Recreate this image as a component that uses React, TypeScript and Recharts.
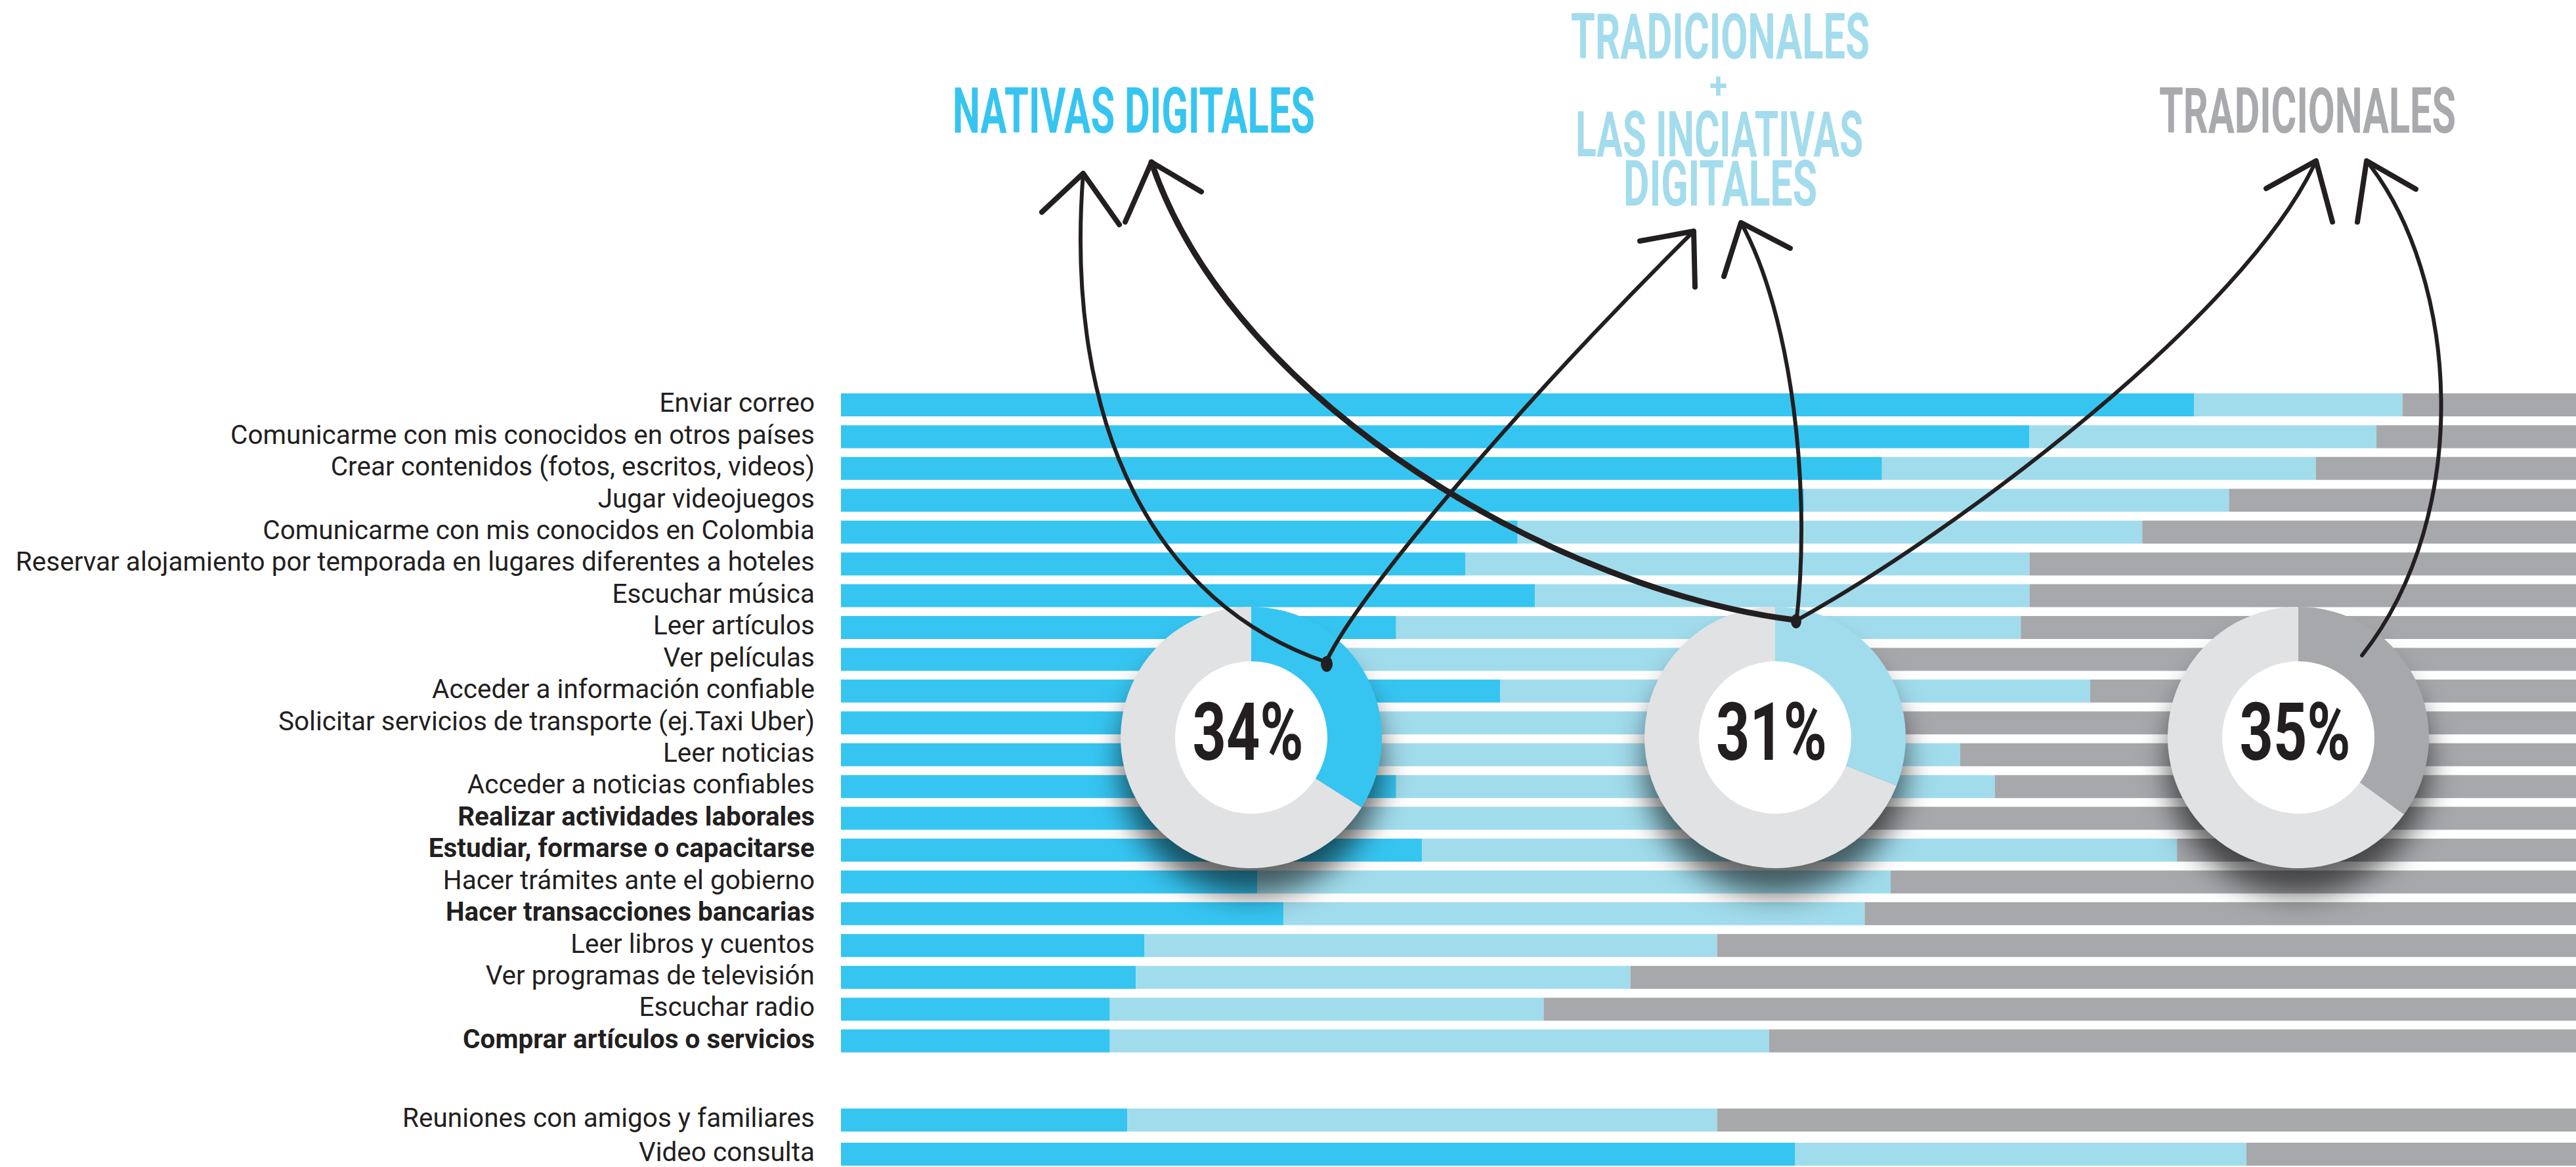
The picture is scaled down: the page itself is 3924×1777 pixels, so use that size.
import React from "react";
import { BarChart, Bar, XAxis, YAxis, PieChart, Pie, Cell } from "recharts";

// Actividades (orden del gráfico, de arriba hacia abajo)
const actividades = [
  "Enviar correo",
  "Comunicarme con mis conocidos en otros países",
  "Crear contenidos (fotos, escritos, videos)",
  "Jugar videojuegos",
  "Comunicarme con mis conocidos en Colombia",
  "Reservar alojamiento por temporada en lugares diferentes a hoteles",
  "Escuchar música",
  "Leer artículos",
  "Ver películas",
  "Acceder a información confiable",
  "Solicitar servicios de transporte (ej.Taxi Uber)",
  "Leer noticias",
  "Acceder a noticias confiables",
  "Realizar actividades laborales",
  "Estudiar, formarse o capacitarse",
  "Hacer trámites ante el gobierno",
  "Hacer transacciones bancarias",
  "Leer libros y cuentos",
  "Ver programas de televisión",
  "Escuchar radio",
  "Comprar artículos o servicios",
];

// % nativas digitales / tradicionales + iniciativas digitales / tradicionales
const nativas = [78, 68.5, 60, 55.5, 39, 36, 40, 32, 27, 38, 26, 25, 32, 25, 33.5, 24, 25.5, 17.5, 17, 15.5, 15.5];
const mixtas = [12, 20, 25, 24.5, 36, 32.5, 28.5, 36, 26, 34, 28, 39.5, 34.5, 31, 43.5, 36.5, 33.5, 33, 28.5, 25, 38];
const tradicionales = [10, 11.5, 15, 20, 25, 31.5, 31.5, 32, 47, 28, 46, 35.5, 33.5, 44, 23, 39.5, 41, 49.5, 54.5, 59.5, 46.5];

const actividadesExtra = ["Reuniones con amigos y familiares", "Video consulta"];
const nativasExtra = [16.5, 55];
const mixtasExtra = [34, 26];
const tradicionalesExtra = [49.5, 19];

const negritas = [
  "Realizar actividades laborales",
  "Estudiar, formarse o capacitarse",
  "Hacer transacciones bancarias",
  "Comprar artículos o servicios",
];

// resumen de las tres donas
const resumen = [34, 31, 35];

const AZUL = "#36c5f1";
const CELESTE = "#a1dcec";
const GRIS = "#a7a8ac";
const FONDO_DONA = "#e1e2e4";
const TINTA = "#231f20";
const coloresResumen = [AZUL, CELESTE, GRIS];

const mainData = actividades.map((name, i) => ({
  name,
  nativas: nativas[i],
  mixtas: mixtas[i],
  tradicionales: tradicionales[i],
}));

const extraData = actividadesExtra.map((name, i) => ({
  name,
  nativas: nativasExtra[i],
  mixtas: mixtasExtra[i],
  tradicionales: tradicionalesExtra[i],
}));

const LabelTick = (props: any) => {
  const { x, y, payload } = props;
  const bold = negritas.includes(payload.value);
  return (
    <text
      x={x}
      y={y}
      dy={11}
      textAnchor="end"
      fontFamily="Roboto"
      fontSize={40.5}
      fontWeight={bold ? 700 : 400}
      fill={TINTA}
    >
      {payload.value}
    </text>
  );
};

const Barras = ({ data, top, height }: { data: any[]; top: number; height: number }) => (
  <div style={{ position: "absolute", left: 0, top, width: 3924, height }}>
    <BarChart
      width={3924}
      height={height}
      data={data}
      layout="vertical"
      margin={{ top: 0, right: 0, bottom: 0, left: 0 }}
    >
      <XAxis type="number" domain={[0, 100]} hide />
      <YAxis
        type="category"
        dataKey="name"
        width={1281}
        axisLine={false}
        tickLine={false}
        tickSize={0}
        tickMargin={40}
        interval={0}
        tick={<LabelTick />}
      />
      <Bar dataKey="nativas" stackId="a" fill={AZUL} barSize={35} isAnimationActive={false} />
      <Bar dataKey="mixtas" stackId="a" fill={CELESTE} barSize={35} isAnimationActive={false} />
      <Bar dataKey="tradicionales" stackId="a" fill={GRIS} barSize={35} isAnimationActive={false} />
    </BarChart>
  </div>
);

const DONA_Y = 1118;
const donaX = (i: number) => 1901 + i * 797.5;

const Dona = ({ value, color, cx }: { value: number; color: string; cx: number }) => (
  <div
    style={{
      position: "absolute",
      left: cx - 220,
      top: DONA_Y - 220,
      width: 440,
      height: 440,
      filter: "drop-shadow(0px 40px 22px rgba(0,0,0,0.6))",
    }}
  >
    <PieChart width={440} height={440}>
      <Pie
        data={[{ v: 100 }]}
        dataKey="v"
        cx={220}
        cy={220}
        innerRadius={0}
        outerRadius={117}
        fill="#ffffff"
        stroke="none"
        isAnimationActive={false}
      />
      <Pie
        data={[{ v: value }, { v: 100 - value }]}
        dataKey="v"
        cx={220}
        cy={220}
        innerRadius={116}
        outerRadius={199}
        startAngle={90}
        endAngle={-270}
        stroke="none"
        isAnimationActive={false}
      >
        <Cell fill={color} />
        <Cell fill={FONDO_DONA} />
      </Pie>
    </PieChart>
  </div>
);

const titulo = {
  fontFamily: "Roboto",
  fontWeight: 700,
  fontSize: 96,
} as const;

const Anotaciones = () => (
  <svg
    width={3924}
    height={1777}
    style={{ position: "absolute", left: 0, top: 0, pointerEvents: "none" }}
  >
    {/* títulos */}
    <text x={1451} y={202} textLength={552} lengthAdjust="spacingAndGlyphs" fill={AZUL} {...titulo}>
      NATIVAS DIGITALES
    </text>
    <text x={2393} y={89} textLength={455} lengthAdjust="spacingAndGlyphs" fill="#a3dcec" {...titulo}>
      TRADICIONALES
    </text>
    <text x={2604} y={149} textLength={27} lengthAdjust="spacingAndGlyphs" fill="#a3dcec" {...titulo} fontSize={56}>
      +
    </text>
    <text x={2400} y={238} textLength={438} lengthAdjust="spacingAndGlyphs" fill="#a3dcec" {...titulo}>
      LAS INCIATIVAS
    </text>
    <text x={2473} y={313} textLength={295} lengthAdjust="spacingAndGlyphs" fill="#a3dcec" {...titulo}>
      DIGITALES
    </text>
    <text x={3289} y={202} textLength={452} lengthAdjust="spacingAndGlyphs" fill="#a9aaad" {...titulo}>
      TRADICIONALES
    </text>

    {/* flechas */}
    <g fill="none" stroke={TINTA} strokeLinecap="round" strokeLinejoin="round">
      <path d="M1650,264 C1620,650 1760,920 2020,1008" strokeWidth={6} />
      <path d="M2020,1008 C2070,900 2330,600 2580,352" strokeWidth={6} />
      <path d="M2734,944 C2380,900 1880,620 1754,247" strokeWidth={9} />
      <path d="M2652,339 C2730,480 2760,750 2736,950" strokeWidth={6} />
      <path d="M2736,945 C2980,810 3420,480 3528,245" strokeWidth={6} />
      <path d="M3605,245 C3745,420 3770,780 3598,998" strokeWidth={6} />
      <g strokeWidth={8}>
        <polyline points="1587,323 1650,264 1705,342" />
        <polyline points="1714,338 1754,247 1830,292" />
        <polyline points="2498,367 2580,352 2582,437" />
        <polyline points="2626,421 2652,339 2727,378" />
        <polyline points="3452,287 3528,245 3553,338" />
        <polyline points="3591,338 3605,245 3680,288" />
      </g>
    </g>
    <ellipse cx={2021} cy={1011} rx={9} ry={12} fill={TINTA} />
    <ellipse cx={2736} cy={946} rx={8} ry={11} fill={TINTA} />

    {/* porcentajes */}
    {resumen.map((v, i) => (
      <text
        key={i}
        x={donaX(i)}
        y={1157}
        textAnchor="middle"
        textLength={169}
        lengthAdjust="spacingAndGlyphs"
        fontFamily="Roboto"
        fontWeight={700}
        fontSize={122}
        fill={TINTA}
      >
        {v}%
      </text>
    ))}
  </svg>
);

export default function App() {
  return (
    <div
      style={{
        position: "absolute",
        left: 0,
        top: 0,
        width: 3924,
        height: 1777,
        overflow: "hidden",
        background: "#ffffff",
      }}
    >
      <Barras data={mainData} top={592} height={1017} />
      <Barras data={extraData} top={1678.5} height={104} />
      {resumen.map((v, i) => (
        <Dona key={i} value={v} color={coloresResumen[i]} cx={donaX(i)} />
      ))}
      <Anotaciones />
    </div>
  );
}
